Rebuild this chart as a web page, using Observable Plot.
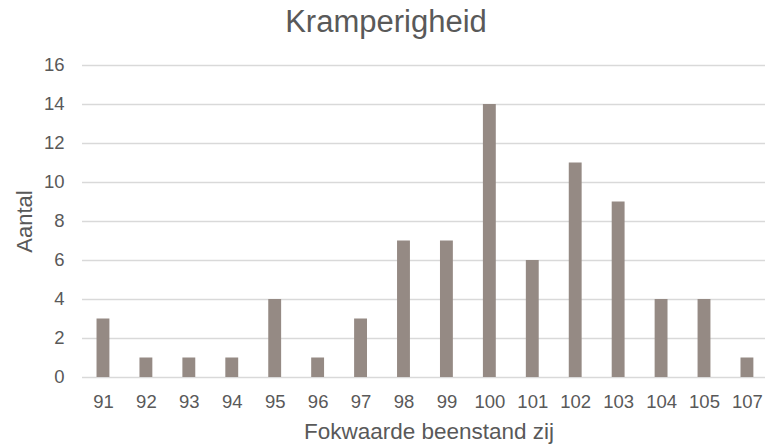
<!DOCTYPE html>
<html>
<head>
<meta charset="utf-8">
<script src="https://cdn.jsdelivr.net/npm/d3@7"></script>
<script src="https://cdn.jsdelivr.net/npm/@observablehq/plot@0.6"></script>
<style>
  html, body { margin: 0; padding: 0; background: #fff; overflow: hidden; }
  #title { height: 44px; line-height: 44px; text-align: center; font-family: "Liberation Sans", Arial, sans-serif; font-size: 31px; color: #595959; width: 772px; }
</style>
</head>
<body>
<div id="title">Kramperigheid</div>
<div id="chart"></div>
<script>
const categories = ["91","92","93","94","95","96","97","98","99","100","101","102","103","104","105","107"];
const counts = [3,1,1,1,4,1,3,7,7,14,6,11,9,4,4,1];
const yTicks = [0,2,4,6,8,10,12,14,16];
const xLabel = "Fokwaarde beenstand zij";
const yLabel = "Aantal";

const data = categories.map((c, i) => ({cat: c, n: counts[i]}));
const textColor = "#595959";

const chart = Plot.plot({
  width: 765,
  height: 402,
  marginTop: 21,
  marginBottom: 69,
  marginLeft: 82,
  marginRight: 0,
  style: {fontFamily: "'Liberation Sans', Arial, sans-serif", color: textColor, background: "#fff"},
  x: {type: "band", domain: categories, range: [81.5, 768.4], paddingInner: 0.7, paddingOuter: 0.35, round: false},
  y: {domain: [0, 16]},
  marks: [
    Plot.ruleY(yTicks, {stroke: "#d9d9d9", strokeWidth: 1.3}),
    Plot.barY(data, {x: "cat", y: "n", fill: "#958a84"}),
    Plot.axisX({tickSize: 0, tickPadding: 17, fontSize: 18.5, label: null, fill: textColor}),
    Plot.axisY({ticks: yTicks, tickSize: 0, tickPadding: 18, fontSize: 18.5, label: null, fill: textColor}),
    Plot.text([xLabel], {frameAnchor: "bottom", dx: 5, dy: 61, fontSize: 22.5, fill: textColor}),
    Plot.text([yLabel], {frameAnchor: "left", dx: -58, rotate: -90, textAnchor: "middle", fontSize: 22, fill: textColor})
  ]
});
document.getElementById("chart").appendChild(chart);
</script>
</body>
</html>
